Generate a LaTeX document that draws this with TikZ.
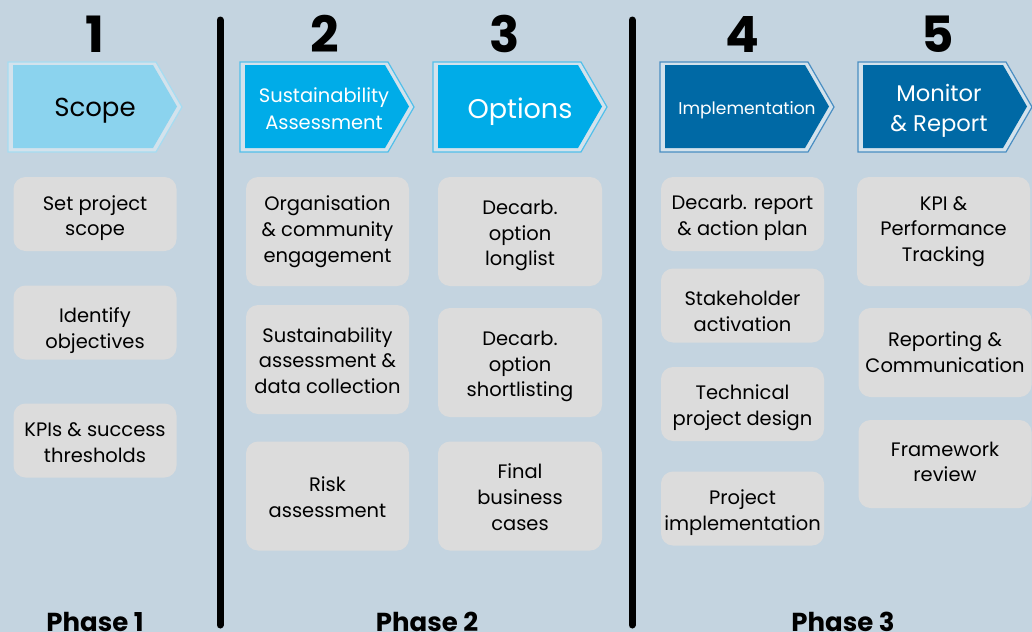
\documentclass[tikz,border=0pt]{standalone}
\usepackage{fontspec}
\setmainfont{Poppins}
\definecolor{bgblue}{HTML}{C4D4E0}
\definecolor{boxgray}{HTML}{DCDCDC}
\definecolor{palegap}{HTML}{D3E2EC}
\definecolor{lightfill}{HTML}{8BD3EE}
\definecolor{lightline}{HTML}{A6DCF1}
\definecolor{cyanfill}{HTML}{00ACE8}
\definecolor{cyanline}{HTML}{52BFEA}
\definecolor{darkfill}{HTML}{0069A5}
\definecolor{darkline}{HTML}{4A8EC2}
\tikzset{
  taskbox/.style={fill=boxgray, rounded corners=9pt, inner sep=0pt},
  tasktext/.style={align=center, inner sep=0pt, font=\fontsize{14.6}{19.3}\selectfont},
  steptext/.style={align=center, inner sep=0pt},
  stepnum/.style={font=\fontsize{37.5}{40}\selectfont\bfseries, inner sep=0pt, anchor=base},
  phasetext/.style={font=\fontsize{19.5}{22}\selectfont\bfseries, inner sep=0pt, anchor=base},
}
% chevron: left edge, fill colour, line colour
\newcommand{\stepchevron}[3]{%
  \draw[#3, fill=palegap, line width=0.9pt]
    (#1-5,62) -- (#1+143,62) -- (#1+169,107) -- (#1+143,152) -- (#1-5,152) -- cycle;
  \fill[#2] (#1,65) -- (#1+140,65) -- (#1+164,106.5) -- (#1+140,148) -- (#1,148) -- cycle;
}
% task box: name, x, y, width, height, text, text shift
\newcommand{\taskitem}[7]{%
  \node[taskbox, minimum width=#4, minimum height=#5] (#1) at (#2,#3) {};
  \node[tasktext] (#1-text) at ([yshift=#7]#1.center) {#6};
}
\begin{document}
\begin{tikzpicture}[x=0.75pt,y=-0.75pt]
  % background
  \fill[bgblue] (0,0) rectangle (1032,632);
  \useasboundingbox (0,0) rectangle (1032,632);

  % Phase separators
  \draw[line width=5.25pt, line cap=round] (220,20) -- (220,625);
  \draw[line width=5.25pt, line cap=round] (632,20) -- (632,625);

  % Step numbers
  \node[stepnum] (num1) at (95,52) {1};
  \node[stepnum] (num2) at (325,52) {2};
  \node[stepnum] (num3) at (505,52) {3};
  \node[stepnum] (num4) at (742,52) {4};
  \node[stepnum] (num5) at (938,52) {5};

  % Step chevrons
  \stepchevron{13}{lightfill}{lightline}
  \stepchevron{245}{cyanfill}{cyanline}
  \stepchevron{438}{cyanfill}{cyanline}
  \stepchevron{665}{darkfill}{darkline}
  \stepchevron{863}{darkfill}{darkline}

  \node[steptext, font=\fontsize{19.5}{22}\selectfont] (scope) at (95,111) {Scope};
  \node[steptext, white, font=\fontsize{14.6}{20}\selectfont] (assess) at (324,109) {Sustainability\\Assessment};
  \node[steptext, white, font=\fontsize{20.3}{24}\selectfont] (options) at (520,112) {Options};
  \node[steptext, white, font=\fontsize{12.8}{16}\selectfont] (implement) at (747,110) {Implementation};
  \node[steptext, white, font=\fontsize{17}{22.5}\selectfont] (monitor) at (939,110.5) {Monitor\\\& Report};

  % Column 1
  \taskitem{setscope}{95}{214}{122.25pt}{55.5pt}{Set project\\scope}{-3pt}
  \taskitem{objectives}{95}{322.5}{122.25pt}{55.5pt}{Identify\\objectives}{-6pt}
  \taskitem{kpis}{95}{440.5}{122.25pt}{55.5pt}{KPIs \& success\\thresholds}{-1.5pt}

  % Column 2
  \taskitem{engage}{327.5}{231.5}{122.25pt}{81.75pt}{Organisation\\\& community\\engagement}{0pt}
  \taskitem{datacoll}{327.5}{359.5}{122.25pt}{81.75pt}{Sustainability\\assessment \&\\data collection}{-0.75pt}
  \taskitem{risk}{327.5}{496}{122.25pt}{81.75pt}{Risk\\assessment}{-0.75pt}

  % Column 3
  \taskitem{longlist}{520}{231.5}{123pt}{81.75pt}{Decarb.\\option\\longlist}{-3pt}
  \taskitem{shortlist}{520}{362.5}{123pt}{81.75pt}{Decarb.\\option\\shortlisting}{-3pt}
  \taskitem{business}{520}{496}{123pt}{81.75pt}{Final\\business\\cases}{-0.75pt}

  % Column 4
  \taskitem{actionplan}{742.5}{214}{122.25pt}{55.5pt}{Decarb. report\\\& action plan}{-3pt}
  \taskitem{activation}{742.5}{305.5}{122.25pt}{55.5pt}{Stakeholder\\activation}{-4.5pt}
  \taskitem{techdesign}{742.5}{404}{122.25pt}{55.5pt}{Technical\\project design}{-3pt}
  \taskitem{projimpl}{742.5}{508.5}{122.25pt}{55.5pt}{Project\\implementation}{-3pt}

  % Column 5
  \taskitem{tracking}{943.5}{231.5}{129.75pt}{81.75pt}{KPI \&\\Performance\\Tracking}{0pt}
  \taskitem{reporting}{945}{352.5}{129.75pt}{66.75pt}{Reporting \&\\Communication}{0pt}
  \taskitem{review}{945}{464}{129.75pt}{66pt}{Framework\\review}{1.5pt}

  % Phase labels
  \node[phasetext] (phase1) at (95,631) {Phase 1};
  \node[phasetext] (phase2) at (427,631) {Phase 2};
  \node[phasetext] (phase3) at (843,631) {Phase 3};
\end{tikzpicture}
\end{document}
